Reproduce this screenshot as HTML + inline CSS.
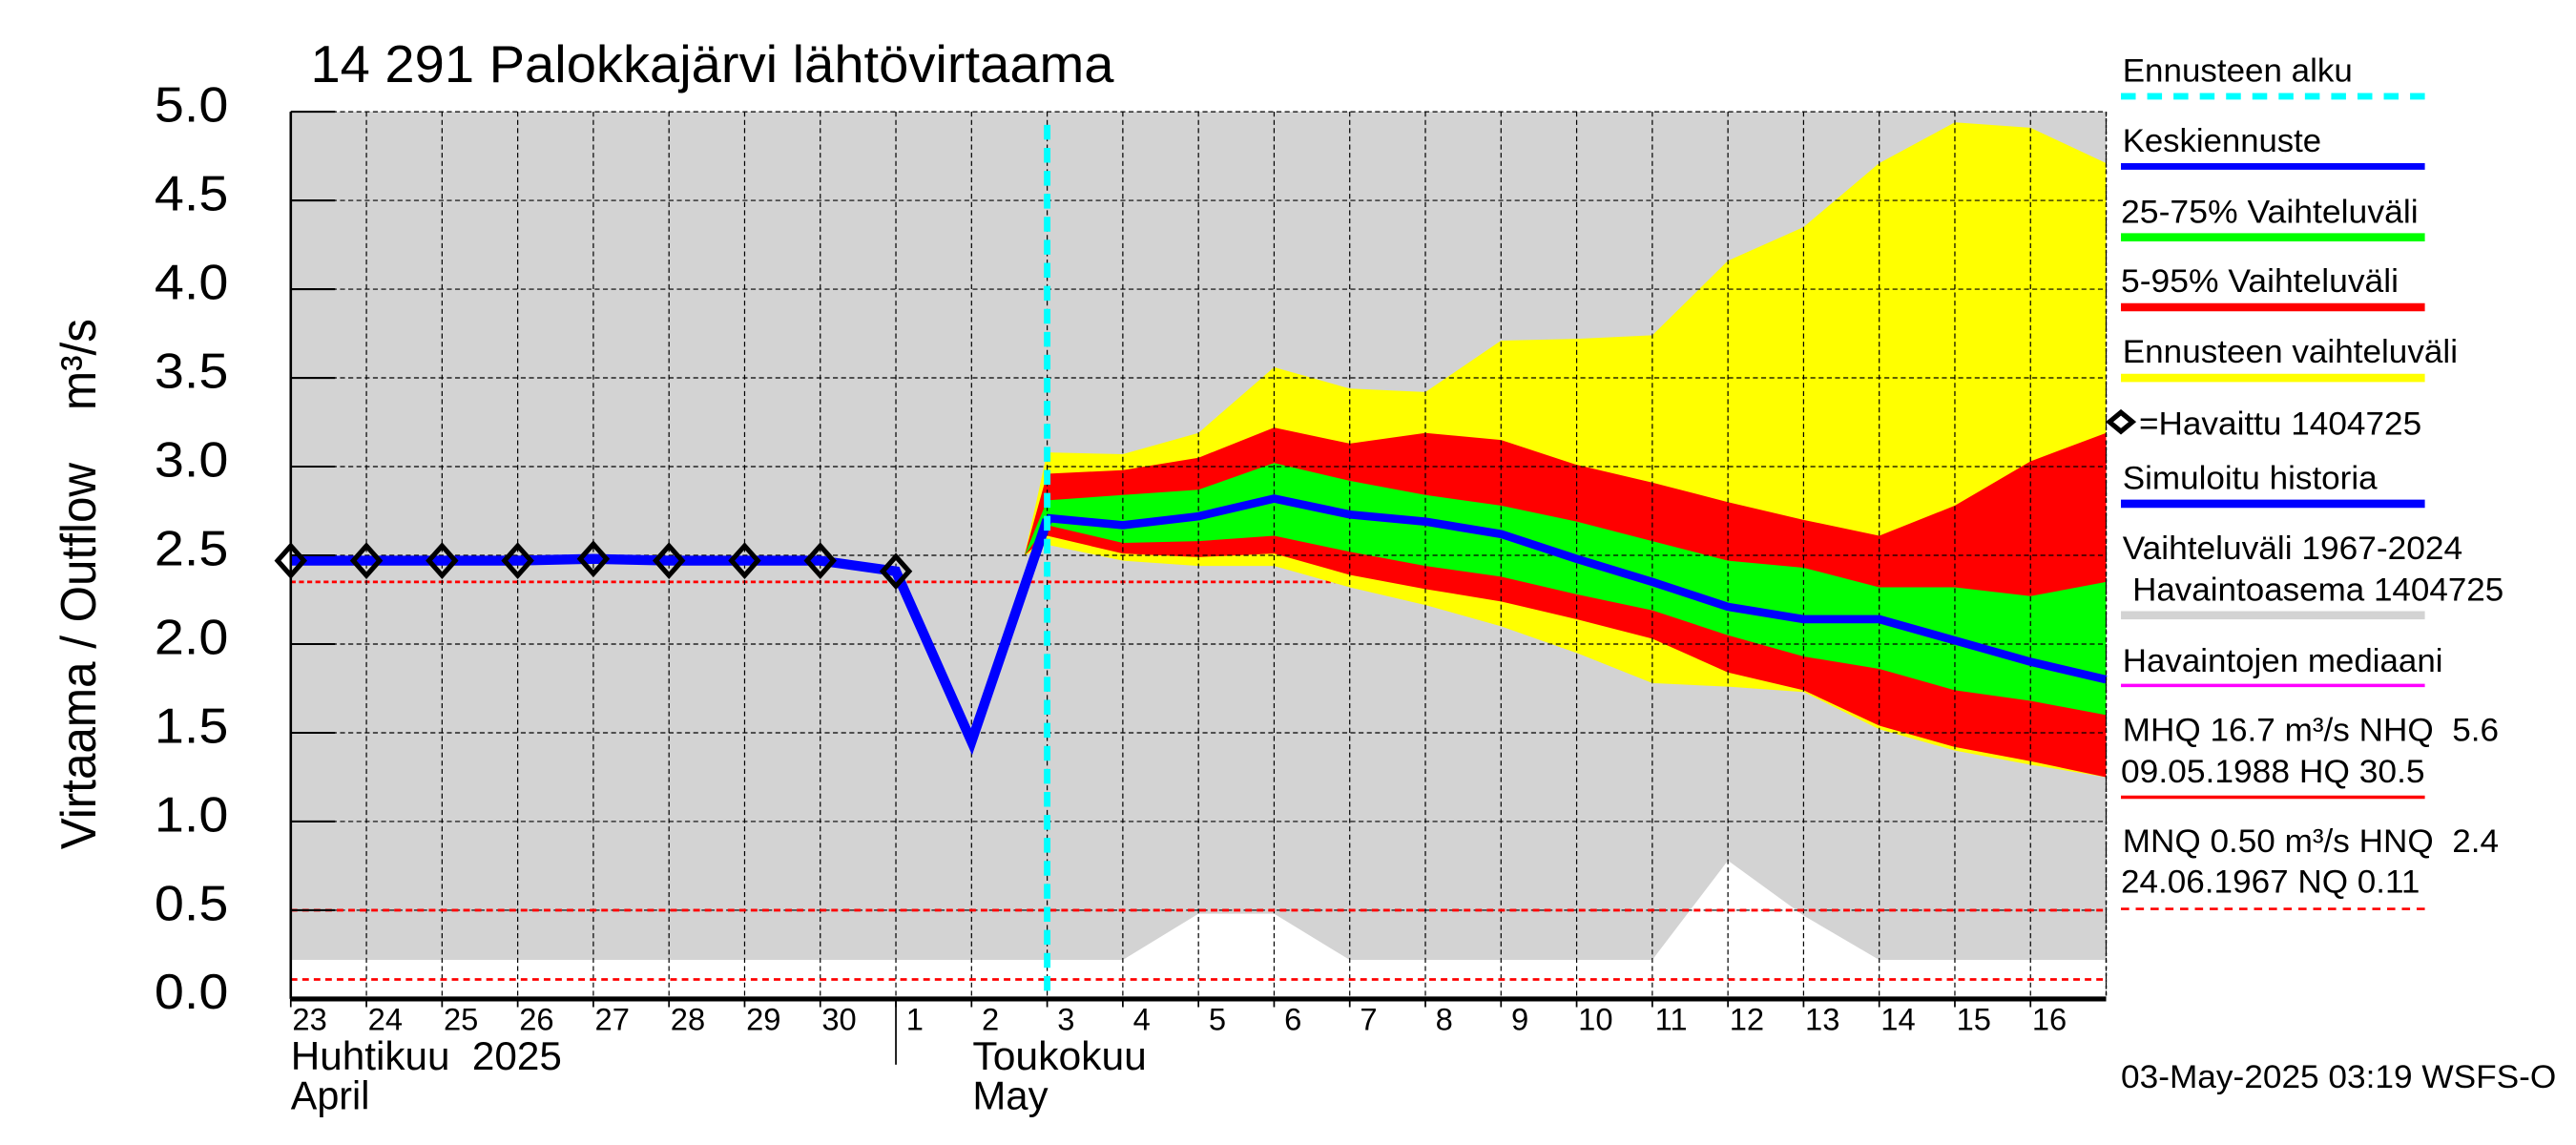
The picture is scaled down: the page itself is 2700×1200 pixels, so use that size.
<!DOCTYPE html>
<html><head><meta charset="utf-8">
<style>
html,body{margin:0;padding:0;background:#fff;}
svg{display:block;}
text{font-family:"Liberation Sans",sans-serif;}
.pre{white-space:pre;}
</style></head>
<body>
<svg id="chart" width="2700" height="1200" viewBox="0 0 1568 696.9" preserveAspectRatio="none" xmlns="http://www.w3.org/2000/svg">
<g id="plot"></g>
<g id="axes"></g>
<g id="legend"></g>
</svg>
<script>
// ---- data ----
const dayLabels = ['23','24','25','26','27','28','29','30','1','2','3','4','5','6','7','8','9','10','11','12','13','14','15','16'];
const yTicks = [0,0.5,1.0,1.5,2.0,2.5,3.0,3.5,4.0,4.5,5.0];
const yTickLabels = ['0.0','0.5','1.0','1.5','2.0','2.5','3.0','3.5','4.0','4.5','5.0'];
const histDays = [0,1,2,3,4,5,6,7,8,9,10];
const simValues = [2.47,2.47,2.47,2.47,2.48,2.47,2.47,2.47,2.41,1.45,2.70];
const obsDays = [0,1,2,3,4,5,6,7,8];
const obsValues = [2.47,2.47,2.47,2.47,2.48,2.47,2.47,2.47,2.41];
const fcDays = [10,11,12,13,14,15,16,17,18,19,20,21,22,23,24];
const fcMedian = [2.71,2.67,2.72,2.82,2.73,2.69,2.62,2.48,2.35,2.21,2.14,2.14,2.02,1.90,1.80];
const yellowTop = [3.08,3.07,3.19,3.56,3.44,3.42,3.71,3.72,3.74,4.16,4.35,4.71,4.94,4.91,4.71];
const yellowBot = [2.56,2.47,2.44,2.44,2.32,2.22,2.10,1.95,1.78,1.76,1.73,1.52,1.40,1.32,1.25];
const redTop = [2.96,2.98,3.05,3.22,3.13,3.19,3.15,3.01,2.91,2.80,2.70,2.61,2.78,3.03,3.19];
const redBot = [2.61,2.51,2.49,2.51,2.39,2.31,2.24,2.14,2.03,1.84,1.74,1.54,1.42,1.34,1.25];
const greenTop = [2.81,2.84,2.87,3.02,2.92,2.84,2.78,2.69,2.58,2.47,2.43,2.32,2.32,2.27,2.35];
const greenBot = [2.67,2.57,2.58,2.61,2.52,2.44,2.38,2.28,2.19,2.05,1.93,1.86,1.74,1.68,1.60];
const bandStartDay = 9.7;
const bandStartValue = 2.5;
const grayDays = [0,11,12,13,14,18,19,20,21,24];
const grayBottom = [0.22,0.22,0.48,0.48,0.22,0.22,0.78,0.47,0.22,0.22];
const grayTop = 5.0;
const refLineHNQ = 2.35;
const refLineMNQ = 0.5;
const refLineNQ = 0.11;
const forecastStartDay = 10;

// ---- scales ----
const X0 = 177, X1 = 1282, NDAYS = 24, Y0 = 608, PXU = 108;
function xs(d){ return X0 + (X1 - X0) * d / NDAYS; }
function ys(v){ return Y0 - v * PXU; }

const NS = 'http://www.w3.org/2000/svg';
function mk(parent, tag, attrs, txt){
  const e = document.createElementNS(NS, tag);
  for (const k in attrs) e.setAttribute(k, attrs[k]);
  if (txt !== undefined) e.textContent = txt;
  parent.appendChild(e);
  return e;
}
const plot = document.getElementById('plot');
const axes = document.getElementById('axes');

{
  let pts = grayDays.map((d,i)=>xs(d)+','+ys(grayBottom[i]));
  pts.push(xs(grayDays[grayDays.length-1])+','+ys(grayTop));
  pts.push(xs(grayDays[0])+','+ys(grayTop));
  const p = mk(plot,'polygon',{points:pts.join(' '),fill:'#d3d3d3'});
  
  
}
{
  const l = mk(plot,'line',{x1:X0,x2:X1,y1:ys(refLineHNQ),y2:ys(refLineHNQ),stroke:'#ff0000','stroke-width':1.6,'stroke-dasharray':'3,2'});
  
  
}
function band(top, bot, color, name){
  let pts = [xs(bandStartDay)+','+ys(bandStartValue)];
  fcDays.forEach((d,i)=>pts.push(xs(d)+','+ys(top[i])));
  for (let i=fcDays.length-1;i>=0;i--) pts.push(xs(fcDays[i])+','+ys(bot[i]));
  const p = mk(plot,'polygon',{points:pts.join(' '),fill:color});
  
  
}
band(yellowTop, yellowBot, '#ffff00', 'forecast-range-band');
band(redTop, redBot, '#ff0000', 'band-5-95');
band(greenTop, greenBot, '#00ff00', 'band-25-75');

for (let i=0;i<=NDAYS;i++){
  const g = mk(plot,'line',{x1:xs(i),x2:xs(i),y1:ys(5),y2:Y0,stroke:'#000','stroke-width':0.7,'stroke-dasharray':'3,2'});
  
  
}
yTicks.forEach(v=>{
  if (v===0) return;
  const g = mk(plot,'line',{x1:X0,x2:X1,y1:ys(v),y2:ys(v),stroke:'#000','stroke-width':0.7,'stroke-dasharray':'3,2'});
  
  
});
[[refLineMNQ,'mnq-line'],[refLineNQ,'nq-line']].forEach(r=>{
  const l = mk(plot,'line',{x1:X0,x2:X1,y1:ys(r[0]),y2:ys(r[0]),stroke:'#ff0000','stroke-width':1.6,'stroke-dasharray':'4,3'});
  
  
});
{
  const p = mk(plot,'polyline',{points:histDays.map((d,i)=>xs(d)+','+ys(simValues[i])).join(' '),fill:'none',stroke:'#0000ff','stroke-width':6,'stroke-linejoin':'miter'});
  
  
}
{
  const p = mk(plot,'polyline',{points:fcDays.map((d,i)=>xs(d)+','+ys(fcMedian[i])).join(' '),fill:'none',stroke:'#0000ff','stroke-width':5});
  
  
}
{
  const l = mk(plot,'line',{x1:xs(forecastStartDay),x2:xs(forecastStartDay),y1:ys(5)+8,y2:Y0,stroke:'#00ffff','stroke-width':4,'stroke-dasharray':'9,5'});
  
  
}
obsDays.forEach((d,i)=>{
  const cx = xs(d), cy = ys(obsValues[i]);
  const p = mk(plot,'polygon',{points:`${cx-8},${cy} ${cx},${cy-9} ${cx+8},${cy} ${cx},${cy+9}`,fill:'none',stroke:'#000','stroke-width':3});
  
  
});

mk(axes,'line',{x1:X0,x2:X0,y1:ys(5),y2:Y0,stroke:'#000','stroke-width':1.5});
mk(axes,'line',{x1:X1,x2:X1,y1:ys(5),y2:Y0,stroke:'#000','stroke-width':0.8,'stroke-dasharray':'2,2'});
mk(axes,'line',{x1:X0,x2:X1,y1:Y0,y2:Y0,stroke:'#000','stroke-width':3});
yTicks.forEach((v,i)=>{
  mk(axes,'line',{x1:X0,x2:X0+27,y1:ys(v),y2:ys(v),stroke:'#000','stroke-width':1.2});
  const t = mk(axes,'text',{x:139,y:ys(v)+6,'text-anchor':'end','font-size':30,textLength:45,lengthAdjust:'spacingAndGlyphs'},yTickLabels[i]);
  
  
});
dayLabels.forEach((lab,i)=>{
  mk(axes,'line',{x1:xs(i),x2:xs(i),y1:Y0,y2:613,stroke:'#000','stroke-width':1});
  const t = mk(axes,'text',{x:xs(i)+11.5,y:627,'text-anchor':'middle','font-size':19},lab);
  
  
});
mk(axes,'line',{x1:xs(8),x2:xs(8),y1:Y0,y2:648,stroke:'#000','stroke-width':1});
</script>

<script>
(function(){
const NS='http://www.w3.org/2000/svg';
const svg=document.getElementById('chart');
function T(x,y,s,size,len,name,extra){
  const t=document.createElementNS(NS,'text');
  t.setAttribute('x',x);t.setAttribute('y',y);t.setAttribute('font-size',size);
  t.setAttribute('class','pre');
  if(len){t.setAttribute('textLength',len);t.setAttribute('lengthAdjust','spacingAndGlyphs');}
  if(extra) for(const k in extra) t.setAttribute(k,extra[k]);
  t.textContent=s;
  
  
  svg.appendChild(t);return t;
}
function L(y,color,w,dash,name){
  const l=document.createElementNS(NS,'line');
  l.setAttribute('x1',1291);l.setAttribute('x2',1476);l.setAttribute('y1',y);l.setAttribute('y2',y);
  l.setAttribute('stroke',color);l.setAttribute('stroke-width',w);
  if(dash) l.setAttribute('stroke-dasharray',dash);
  
  
  svg.appendChild(l);
}
T(189,50,'14 291 Palokkajärvi lähtövirtaama',32,489,'chart-title');
T(0,0,'Virtaama / Outflow    m³/s',30,323,'y-axis-title',{transform:'translate(58,517) rotate(-90)'});
T(177,651,'Huhtikuu  2025',24,165,'month-label-fi-april');
T(177,675,'April',24,48,'month-label-en-april');
T(592,651,'Toukokuu',24,106,'month-label-fi-may');
T(592,675,'May',24,46,'month-label-en-may');

T(1292,49.8,'Ennusteen alku',20,140,'legend-forecast-start');
L(58.6,'#00ffff',4,'9,7','legend-forecast-start-swatch');
T(1292,92.4,'Keskiennuste',20,121,'legend-median');
L(101.3,'#0000ff',4,null,'legend-median-swatch');
T(1291,135.5,'25-75% Vaihteluväli',20,181,'legend-25-75');
L(144.4,'#00ff00',5,null,'legend-25-75-swatch');
T(1291,177.7,'5-95% Vaihteluväli',20,169,'legend-5-95');
L(187,'#ff0000',5,null,'legend-5-95-swatch');
T(1292,220.8,'Ennusteen vaihteluväli',20,204,'legend-forecast-range');
L(230,'#ffff00',5,null,'legend-forecast-range-swatch');
const d=document.createElementNS(NS,'polygon');
d.setAttribute('points','1284,256.8 1291,251 1298,256.8 1291,262.6');
d.setAttribute('fill','none');d.setAttribute('stroke','#000');d.setAttribute('stroke-width',3);


svg.appendChild(d);
T(1302,264.4,'=Havaittu 1404725',20,172,'legend-observed');
T(1292,297.7,'Simuloitu historia',20,155,'legend-simulated');
L(306.6,'#0000ff',5,null,'legend-simulated-swatch');
T(1292,340.3,'Vaihteluväli 1967-2024',20,207,'legend-historical-range');
T(1298,365.7,'Havaintoasema 1404725',20,226,'legend-station');
L(374.5,'#d3d3d3',5,null,'legend-historical-range-swatch');
T(1292,408.8,'Havaintojen mediaani',20,195,'legend-obs-median');
L(417.2,'#ff00ff',2,null,'legend-obs-median-swatch');
T(1292,451,'MHQ 16.7 m³/s NHQ  5.6',20,229,'legend-mhq');
T(1291,476.3,'09.05.1988 HQ 30.5',20,185,'legend-hq');
L(485.2,'#ff0000',2,null,'legend-mhq-swatch');
T(1292,518.5,'MNQ 0.50 m³/s HNQ  2.4',20,229,'legend-mnq');
T(1291,543.4,'24.06.1967 NQ 0.11',20,182,'legend-nq');
L(553.2,'#ff0000',1.5,'5,4','legend-mnq-swatch');
T(1291,662,'03-May-2025 03:19 WSFS-O',20,265,'timestamp');
})();
</script>
</body></html>
